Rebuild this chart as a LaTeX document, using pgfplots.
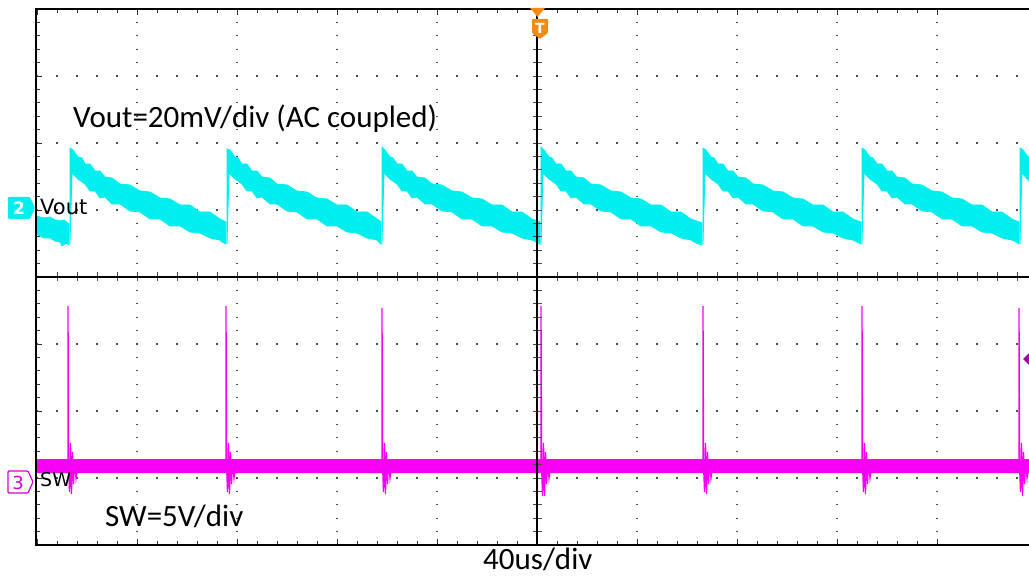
\documentclass[border=0pt]{standalone}
\usepackage{fontspec}
\setmainfont{Carlito}
\newfontfamily\scopefont{DejaVu Sans}
\usepackage{pgfplots}
\pgfplotsset{compat=1.18}
\definecolor{vcyan}{RGB}{0,238,238}
\definecolor{swmag}{RGB}{245,0,245}
\definecolor{trigor}{RGB}{240,140,20}
\definecolor{lvlmag}{RGB}{165,0,170}
\begin{document}
\begin{tikzpicture}
\path[use as bounding box] (0,0) rectangle (1029pt,577pt);
% main screen (coordinates: x and y in screen pixels, y downward)
\begin{axis}[
  at={(532.5pt,300pt)}, anchor=center,
  width=993pt, height=536pt, scale only axis,
  xmin=36, xmax=1029, ymin=9, ymax=545, y dir=reverse,
  axis line style={draw=none},
  xtick={37,137,...,937}, ytick={9,76,...,545},
  minor x tick num=4, minor y tick num=4,
  xticklabels={}, yticklabels={},
  ytick pos=left,
  tick align=inside, major tick length=6pt, minor tick length=4pt,
  tick style={black!80, line width=0.9pt},
  grid=major,
  major x grid style={black!70, line width=1.3pt, dash pattern=on 1.3pt off 12.1pt, dash phase=0.65pt},
  major y grid style={black!70, line width=1.3pt, dash pattern=on 1.3pt off 18.7pt, dash phase=19.65pt},
]
% ---- Vout (channel 2), noisy band as envelope polygons ----
\addplot[fill=vcyan, draw=vcyan, line width=0.8pt] coordinates {(36,216)(44,218)(50,217)(55,220)(60,221)(64,220)(69,224)(69,245)(66,243)(62,246)(60,242)(55,241)(50,238)(44,238)(36,234)(36,216)};
\addplot[fill=vcyan, draw=vcyan, line width=0.8pt] coordinates {(70,244)(70,148)(73,150)(78,157)(82,158)(85,164)(90,164)(95,171)(100,171)(105,177)(112,178)(120,184)(130,185)(140,191)(150,192)(160,198)(170,199)(180,205)(190,205)(200,212)(210,212)(220,219)(226,222)(226,244)(222,242)(220,240)(210,238)(200,233)(190,232)(180,226)(170,226)(160,219)(150,219)(140,212)(130,211)(120,204)(112,204)(105,197)(100,198)(95,191)(90,191)(85,184)(78,179)(72,173)(70,244)};
\addplot[fill=vcyan, draw=vcyan, line width=0.8pt] coordinates {(227,244)(227,149)(230,150)(235,157)(238,158)(242,164)(247,164)(252,171)(257,171)(262,177)(270,178)(277,184)(287,185)(297,191)(307,192)(317,198)(327,199)(337,205)(347,205)(357,212)(367,212)(377,219)(381,222)(381,244)(379,242)(377,240)(367,238)(357,233)(347,232)(337,226)(327,226)(317,219)(307,219)(297,212)(287,211)(277,204)(270,204)(262,197)(257,198)(252,191)(247,191)(242,184)(235,179)(229,173)(227,244)};
\addplot[fill=vcyan, draw=vcyan, line width=0.8pt] coordinates {(382,244)(382,147)(385,150)(390,157)(393,158)(397,164)(402,164)(407,171)(412,171)(417,177)(425,178)(432,184)(442,185)(452,191)(462,192)(472,198)(482,199)(492,205)(502,205)(512,212)(522,212)(532,219)(540,222)(540,244)(536,242)(532,240)(522,238)(512,233)(502,232)(492,226)(482,226)(472,219)(462,219)(452,212)(442,211)(432,204)(425,204)(417,197)(412,198)(407,191)(402,191)(397,184)(390,179)(384,173)(382,244)};
\addplot[fill=vcyan, draw=vcyan, line width=0.8pt] coordinates {(541,245)(541,147)(544,150)(549,157)(552,158)(556,164)(561,164)(566,171)(571,171)(576,177)(584,178)(591,184)(601,185)(611,191)(621,192)(631,198)(641,199)(651,205)(661,205)(671,212)(681,212)(691,219)(702,223)(702,245)(696,243)(691,240)(681,238)(671,233)(661,232)(651,226)(641,226)(631,219)(621,219)(611,212)(601,211)(591,204)(584,204)(576,197)(571,198)(566,191)(561,191)(556,184)(549,179)(543,173)(541,245)};
\addplot[fill=vcyan, draw=vcyan, line width=0.8pt] coordinates {(703,244)(703,148)(706,150)(711,157)(714,158)(718,164)(723,164)(728,171)(733,171)(738,177)(746,178)(753,184)(763,185)(773,191)(783,192)(793,198)(803,199)(813,205)(823,205)(833,212)(843,212)(853,219)(861,222)(861,244)(857,242)(853,240)(843,238)(833,233)(823,232)(813,226)(803,226)(793,219)(783,219)(773,212)(763,211)(753,204)(746,204)(738,197)(733,198)(728,191)(723,191)(718,184)(711,179)(705,173)(703,244)};
\addplot[fill=vcyan, draw=vcyan, line width=0.8pt] coordinates {(862,244)(862,148)(865,150)(870,157)(873,158)(877,164)(882,164)(887,171)(892,171)(897,177)(905,178)(912,184)(922,185)(932,191)(942,192)(952,198)(962,199)(972,205)(982,205)(992,212)(1002,212)(1012,219)(1019,222)(1019,244)(1016,242)(1012,240)(1002,238)(992,233)(982,232)(972,226)(962,226)(952,219)(942,219)(932,212)(922,211)(912,204)(905,204)(897,197)(892,198)(887,191)(882,191)(877,184)(870,179)(864,173)(862,244)};
\addplot[fill=vcyan, draw=vcyan, line width=0.8pt] coordinates {(1020,244)(1020,148)(1023,150)(1029,158)(1029,181)(1022,173)(1020,244)};
% ---- SW (channel 3) ----
\addplot[fill=swmag, draw=none] coordinates {(36,459)(1029,459)(1029,473)(36,473)(36,459)};
\addplot[swmag, line width=1.3pt] coordinates {(68,466)(68,306)(68.6,466)(69.5,492)(70.5,443)(71.5,494)(72.5,452)(73.5,484)(74.5,460)(76,478)(77.5,466)};
\addplot[swmag, line width=1.3pt] coordinates {(226,466)(226,306)(226.6,466)(227.5,492)(228.5,443)(229.5,494)(230.5,452)(231.5,484)(232.5,460)(234,478)(235.5,466)};
\addplot[swmag, line width=1.3pt] coordinates {(382,466)(382,308)(382.6,466)(383.5,492)(384.5,443)(385.5,494)(386.5,452)(387.5,484)(388.5,460)(390,478)(391.5,466)};
\addplot[swmag, line width=1.3pt] coordinates {(541,466)(541,306)(541.6,466)(542.5,496)(543.5,443)(544.5,496)(545.5,452)(546.5,484)(547.5,460)(549,478)(550.5,466)};
\addplot[swmag, line width=1.3pt] coordinates {(703,466)(703,306)(703.6,466)(704.5,492)(705.5,443)(706.5,494)(707.5,452)(708.5,484)(709.5,460)(711,478)(712.5,466)};
\addplot[swmag, line width=1.3pt] coordinates {(862,466)(862,306)(862.6,466)(863.5,492)(864.5,443)(865.5,494)(866.5,452)(867.5,484)(868.5,460)(870,478)(871.5,466)};
\addplot[swmag, line width=1.3pt] coordinates {(1019,466)(1019,308)(1019.6,466)(1020.5,492)(1021.5,443)(1022.5,496)(1023.5,452)(1024.5,484)(1025.5,460)(1027,478)(1028.5,466)};
\end{axis}
% centre cross (divisions)
\begin{axis}[
  at={(532.5pt,300pt)}, anchor=center,
  width=993pt, height=536pt, scale only axis,
  xmin=-5.01, xmax=4.92, ymin=-4, ymax=4,
  axis lines=middle,
  axis line style={-, line width=1.5pt, black},
  every inner x axis line/.append style={-},
  every inner y axis line/.append style={-},
  xtick={-4.8,-4.6,...,4.81}, ytick={-3.8,-3.6,...,3.81},
  xticklabels={}, yticklabels={},
  tick align=center, major tick length=9pt,
  tick style={black!70, line width=0.8pt},
]
\end{axis}
% screen border (left, top, bottom)
\draw[line width=1.6pt, black] (1029pt,32pt) -- (36pt,32pt) -- (36pt,568pt) -- (1029pt,568pt);
% annotations
\node[anchor=base west, inner sep=0] at (73pt,449pt) {\fontsize{31}{36}\selectfont Vout=20mV/div (AC coupled)};
\node[anchor=base west, inner sep=0] at (105pt,50pt) {\fontsize{31}{36}\selectfont SW=5V/div};
\node[anchor=base west, inner sep=0] at (483pt,7pt) {\fontsize{31}{36}\selectfont 40us/div};
% channel labels
\node[anchor=base west, inner sep=0] at (40pt,362pt) {\scopefont\fontsize{21}{24}\selectfont Vout};
\node[anchor=base west, inner sep=0] at (40pt,90pt) {\scopefont\fontsize{19}{22}\selectfont SW};
% channel 2 marker
\fill[vcyan, rounded corners=1pt] (8pt,380pt) -- (30pt,380pt) -- (35pt,369pt) -- (30pt,358pt) -- (8pt,358pt) -- cycle;
\node[text=white, inner sep=0] at (19pt,368.5pt) {\scopefont\bfseries\fontsize{17}{19}\selectfont 2};
% channel 3 marker
\draw[swmag!85!black, line width=1.2pt, fill=white, rounded corners=1pt] (8pt,106pt) -- (28pt,106pt) -- (33pt,95pt) -- (28pt,84pt) -- (8pt,84pt) -- cycle;
\node[text=swmag!85!black, inner sep=0] at (18pt,94.5pt) {\scopefont\fontsize{18}{20}\selectfont 3};
% trigger position marker
\fill[trigor] (530pt,569pt) -- (545pt,569pt) -- (537.5pt,560pt) -- cycle;
\fill[trigor, rounded corners=1pt] (532pt,558pt) -- (548pt,558pt) -- (548pt,544pt) -- (540pt,538pt) -- (532pt,544pt) -- cycle;
\node[text=white, inner sep=0] at (540pt,549pt) {\scopefont\bfseries\fontsize{14}{16}\selectfont T};
% trigger level marker
\fill[lvlmag] (1023pt,218pt) -- (1030pt,225pt) -- (1030pt,211pt) -- cycle;
\end{tikzpicture}
\end{document}
